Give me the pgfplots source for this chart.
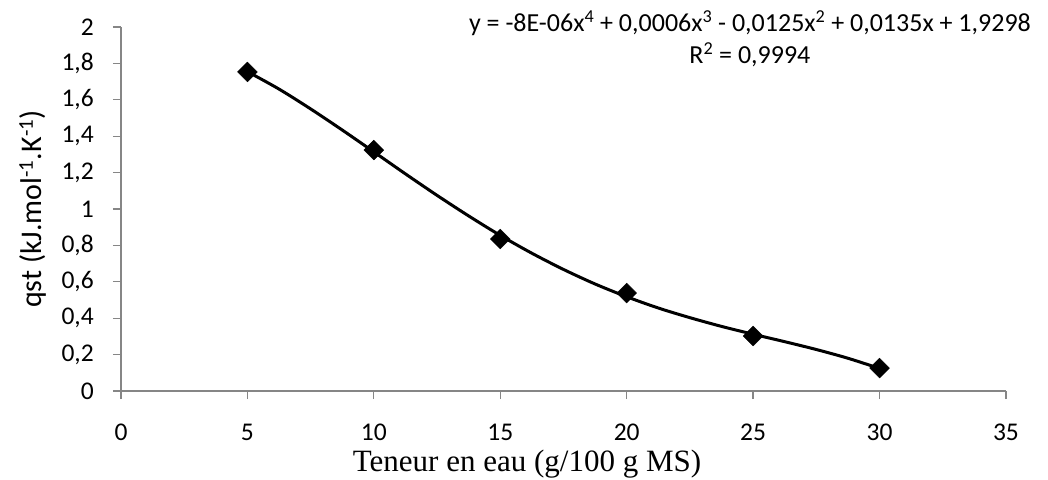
\documentclass[border=0pt]{standalone}
\usepackage{fontspec}
\setmainfont{Carlito}
\newfontfamily\timesfont{Liberation Serif}
\usepackage{pgfplots}
\pgfplotsset{compat=1.18}
\definecolor{axgray}{HTML}{868686}
\begin{document}
\begin{tikzpicture}
\begin{axis}[
  scale only axis,
  width=885pt, height=364pt,
  xmin=0, xmax=35, ymin=0, ymax=2,
  axis x line*=bottom, axis y line*=left,
  axis line style={axgray, line width=1.3pt},
  xtick={0,5,10,15,20,25,30,35},
  ytick={0,0.2,0.4,0.6,0.8,1,1.2,1.4,1.6,1.8,2},
  yticklabels={0,{0,2},{0,4},{0,6},{0,8},1,{1,2},{1,4},{1,6},{1,8},2},
  tick align=outside,
  major tick length=8pt,
  tick style={axgray, line width=1.3pt},
  /pgf/number format/assume math mode=true,
  ticklabel style={font=\fontsize{25.5}{28}\selectfont, inner sep=0pt},
  xticklabel style={anchor=base, yshift=-41pt},
  yticklabel style={anchor=east, xshift=-19pt},
  xlabel={\timesfont Teneur en eau (g/100 g MS)},
  xlabel style={font=\fontsize{31}{33}\selectfont, inner sep=0pt, at={(rel axis cs:0.4588,-0.2225)}, anchor=base},
  ylabel={qst (kJ.mol\textsuperscript{-1}.K\textsuperscript{-1})},
  ylabel style={font=\fontsize{30}{32}\selectfont, at={(rel axis cs:-0.0994,0.5)}, anchor=center},
  clip=false,
]
% polynomial trendline, values
\addplot[black, line width=3pt, smooth, tension=0.5, mark=none]
coordinates {(5,1.755) (6.25,1.659) (7.5,1.550) (8.75,1.434) (10,1.314) (11.25,1.193) (12.5,1.075) (13.75,0.962) (15,0.855) (16.25,0.757) (17.5,0.668) (18.75,0.588) (20,0.518) (21.25,0.456) (22.5,0.403) (23.75,0.355) (25,0.312) (26.25,0.271) (27.5,0.228) (28.75,0.180) (30,0.124)};
% measured points
\addplot[only marks, black, mark=square*, mark size=7pt, mark options={rotate=45, solid, fill=black}]
coordinates {(5,1.753) (10,1.324) (15,0.835) (20,0.538) (25,0.302) (30,0.126)};
\node[font=\fontsize{26}{31}\selectfont, anchor=base, inner sep=0pt] at (rel axis cs:0.7107,0.9863)
 {y = -8E-06x\textsuperscript{4} + 0,0006x\textsuperscript{3} - 0,0125x\textsuperscript{2} + 0,0135x + 1,9298};
\node[font=\fontsize{26}{31}\selectfont, anchor=base, inner sep=0pt] at (rel axis cs:0.7107,0.8984)
 {R\textsuperscript{2} = 0,9994};
\coordinate (BL) at (rel axis cs:-0.1367,-0.2418);
\coordinate (TR) at (rel axis cs:1.0475,1.0742);
\end{axis}
\pgfresetboundingbox
\useasboundingbox (BL) rectangle (TR);
\end{tikzpicture}
\end{document}
